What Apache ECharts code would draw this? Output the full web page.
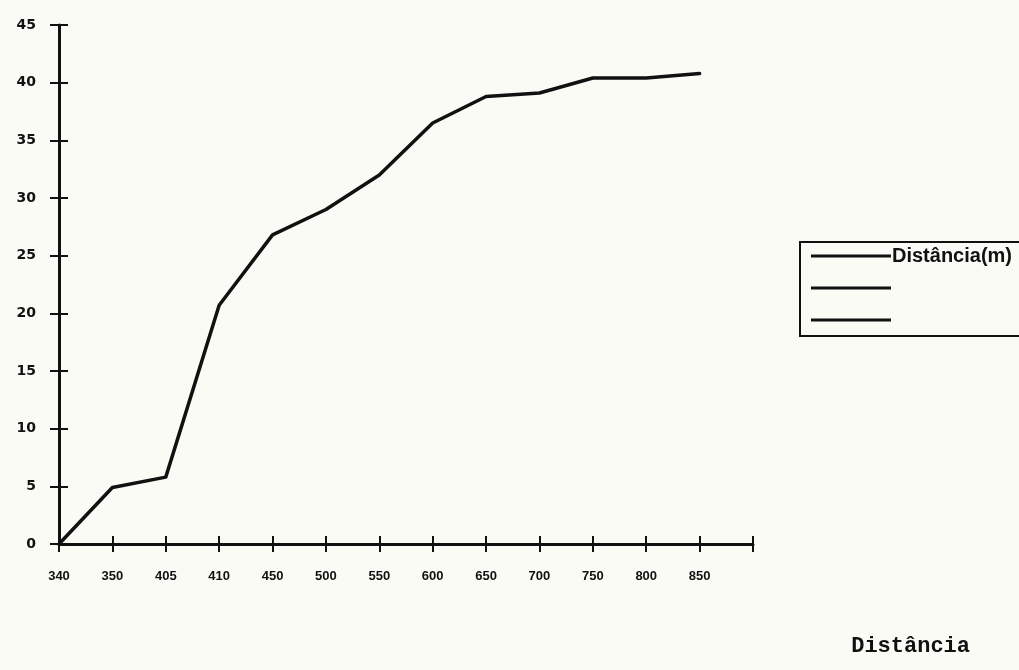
<!DOCTYPE html>
<html>
<head>
<meta charset="utf-8">
<script src="https://cdn.jsdelivr.net/npm/echarts@6/dist/echarts.min.js"></script>
<style>
  html, body { margin: 0; padding: 0; background: #fbfbf6; }
  #chart { width: 1019px; height: 670px; }
</style>
</head>
<body>
<div id="chart"></div>
<script>
// Distance categories along the x axis (last slot is the axis end, unlabelled)
const categories = ['340', '350', '405', '410', '450', '500', '550', '600', '650', '700', '750', '800', '850', ''];
// Cumulative distance (m) at each category
const distancia = [0, 4.9, 5.8, 20.7, 26.8, 29, 32, 36.5, 38.8, 39.1, 40.4, 40.4, 40.8];
// Y axis range
const yMin = 0, yMax = 45, yStep = 5;

const ink = '#111111';

const chart = echarts.init(document.getElementById('chart'));
chart.setOption({
  backgroundColor: '#fbfbf6',
  animation: false,
  title: {
    text: 'Distância',
    right: 44, bottom: 8,
    textStyle: { fontFamily: 'Liberation Mono', fontWeight: 'bold', fontSize: 22, color: ink }
  },
  legend: {
    orient: 'vertical',
    left: 800, top: 242,
    padding: [4, 40, 6, 11],
    itemGap: 12,
    itemWidth: 80, itemHeight: 3,
    icon: 'rect',
    borderColor: ink, borderWidth: 2,
    textStyle: { fontFamily: 'Liberation Sans', fontWeight: 'bold', fontSize: 20, color: ink, padding: [0, 0, 0, -4] },
    data: ['Distância(m)', ' ', '  ']
  },
  grid: { left: 59, right: 266, top: 25, bottom: 126, containLabel: false },
  xAxis: [
    {
      type: 'category', data: categories, boundaryGap: false,
      axisLine: { lineStyle: { color: ink, width: 3 } },
      axisTick: { length: 8, lineStyle: { color: ink, width: 2 } },
      axisLabel: { margin: 26, interval: 0, color: ink, fontFamily: 'Liberation Sans', fontWeight: 'bold', fontSize: 13 },
      splitLine: { show: false }
    },
    {
      type: 'category', data: categories, boundaryGap: false, position: 'bottom', offset: 0,
      axisLine: { show: false },
      axisTick: { inside: true, length: 8, lineStyle: { color: ink, width: 2 } },
      axisLabel: { show: false },
      splitLine: { show: false }
    }
  ],
  yAxis: [
    {
      type: 'value', min: yMin, max: yMax, interval: yStep,
      axisLine: { show: true, lineStyle: { color: ink, width: 3 } },
      axisTick: { show: true, length: 9, lineStyle: { color: ink, width: 2 } },
      axisLabel: { margin: 23, color: ink, fontFamily: 'DejaVu Sans', fontWeight: 'bold', fontSize: 14 },
      splitLine: { show: false }
    },
    {
      type: 'value', min: yMin, max: yMax, interval: yStep, position: 'left', offset: 0,
      axisLine: { show: false },
      axisTick: { show: true, inside: true, length: 9, lineStyle: { color: ink, width: 2 } },
      axisLabel: { show: false },
      splitLine: { show: false }
    }
  ],
  series: [
    {
      name: 'Distância(m)', type: 'line', data: distancia,
      showSymbol: false, symbol: 'none',
      lineStyle: { color: ink, width: 3.5, join: 'round', cap: 'round' },
      itemStyle: { color: ink }
    },
    { name: ' ', type: 'line', data: [], symbol: 'none', lineStyle: { color: ink }, itemStyle: { color: ink } },
    { name: '  ', type: 'line', data: [], symbol: 'none', lineStyle: { color: ink }, itemStyle: { color: ink } }
  ]
});
</script>
</body>
</html>
